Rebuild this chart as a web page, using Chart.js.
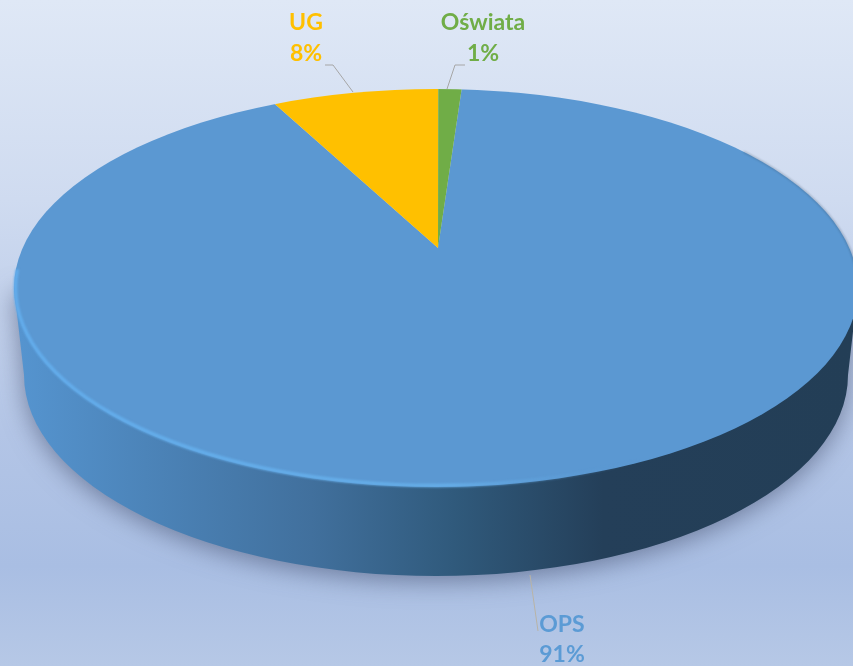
<!DOCTYPE html>
<html>
<head>
<meta charset="utf-8">
<title>Pie</title>
<script src="https://cdn.jsdelivr.net/npm/chart.js@4"></script>
<style>
  html, body { margin: 0; padding: 0; width: 853px; height: 666px; overflow: hidden; }
  body { background: linear-gradient(180deg, #dfe8f6 0%, #cfdbf0 30%, #b3c5e6 65%, #a9bee3 85%, #b6c8e6 100%); }
  canvas { display: block; }
</style>
</head>
<body>
<canvas id="pieChart" width="853" height="666"></canvas>
<script>
var categories = ["OPS", "UG", "Oświata"];
var shares = [91.1, 7.8, 1.1];
var sliceColors = ["#5b98d2", "#ffc000", "#70ad47"];
var labelColors = ["#5b9bd5", "#ffc000", "#70ad47"];

// where each label sits, centre of the text lines
var labelPos = [[562, 625, 655], [306, 23, 54], [483, 23, 54]];
var leaders = [
  [[530, 575], [538, 631]],
  [[325, 65], [333, 65], [353, 92]],
  [[465, 65], [455, 65], [447, 89]]
];

// flat pie is squashed and cut by the top ellipse to fake the 3D look
var apex = { x: 438, y: 248 };
var top3d = { x: 436, y: 288, rx: 422, ry: 199 };
var low3d = { x: 436, y: 375, rx: 412, ry: 201 };
var squash = 0.47;
var grow = 1.6;

var pie3d = {
  id: "pie3d",
  beforeDatasetsDraw: function (chart) {
    var ctx = chart.ctx;
    var arc = chart.getDatasetMeta(0).data[0];

    // side wall
    var wall = ctx.createLinearGradient(20, 0, 853, 0);
    wall.addColorStop(0, "#5594cf");
    wall.addColorStop(0.15, "#4c84b9");
    wall.addColorStop(0.35, "#41709d");
    wall.addColorStop(0.52, "#305a7c");
    wall.addColorStop(0.7, "#243f59");
    wall.addColorStop(1, "#233e56");
    ctx.save();
    ctx.shadowColor = "rgba(60,70,100,0.55)";
    ctx.shadowBlur = 24;
    ctx.shadowOffsetY = 5;
    ctx.fillStyle = wall;
    ctx.beginPath();
    ctx.moveTo(top3d.x - top3d.rx, top3d.y);
    ctx.lineTo(low3d.x - low3d.rx, low3d.y);
    ctx.ellipse(low3d.x, low3d.y, low3d.rx, low3d.ry, 0, Math.PI, 0, true);
    ctx.lineTo(top3d.x + top3d.rx, top3d.y);
    ctx.closePath();
    ctx.fill();
    ctx.restore();

    // slices
    ctx.save();
    ctx.beginPath();
    ctx.ellipse(top3d.x, top3d.y, top3d.rx, top3d.ry, 0, 0, Math.PI * 2);
    ctx.clip();
    ctx.translate(apex.x, apex.y);
    ctx.scale(grow, grow * squash);
    ctx.translate(-arc.x, -arc.y);
  },
  afterDatasetsDraw: function (chart) {
    var ctx = chart.ctx;
    ctx.restore();

    // bevel on the rim
    var rim = ctx.createLinearGradient(14, 0, 640, 0);
    rim.addColorStop(0, "#63adec");
    rim.addColorStop(0.7, "#66aee8");
    rim.addColorStop(1, "rgba(91,152,210,0)");
    ctx.save();
    ctx.filter = "blur(0.8px)";
    ctx.strokeStyle = rim;
    ctx.lineWidth = 3.5;
    ctx.beginPath();
    ctx.ellipse(top3d.x, top3d.y, top3d.rx - 1.5, top3d.ry - 1.5, 0, Math.PI * 1.03, Math.PI * 0.28, true);
    ctx.stroke();
    ctx.strokeStyle = "rgba(50,75,100,0.5)";
    ctx.lineWidth = 1.2;
    ctx.beginPath();
    ctx.ellipse(top3d.x, top3d.y, top3d.rx, top3d.ry, 0, -Math.PI * 0.24, -Math.PI * 0.02);
    ctx.stroke();
    ctx.restore();

    // leader lines and labels
    var total = shares.reduce(function (a, b) { return a + b; }, 0);
    ctx.save();
    ctx.textAlign = "center";
    ctx.textBaseline = "middle";
    ctx.font = "bold 23px Lato";
    categories.forEach(function (name, i) {
      ctx.strokeStyle = i == 0 ? "#b8b3a6" : "#a6a6a6";
      ctx.lineWidth = 1;
      ctx.beginPath();
      leaders[i].forEach(function (p, j) {
        if (j == 0) ctx.moveTo(p[0], p[1]); else ctx.lineTo(p[0], p[1]);
      });
      ctx.stroke();
      ctx.fillStyle = labelColors[i];
      ctx.fillText(name, labelPos[i][0], labelPos[i][1]);
      ctx.fillText(Math.round(shares[i] / total * 100) + "%", labelPos[i][0], labelPos[i][2]);
    });
    ctx.restore();
  }
};

new Chart("pieChart", {
  type: "pie",
  data: {
    labels: categories,
    datasets: [{
      data: shares,
      backgroundColor: sliceColors,
      borderWidth: 0,
      clip: false
    }]
  },
  options: {
    responsive: false,
    animation: false,
    rotation: 4,
    layout: { padding: 0 },
    plugins: {
      legend: { display: false },
      title: { display: false },
      tooltip: { enabled: false }
    }
  },
  plugins: [pie3d]
});
</script>
</body>
</html>
